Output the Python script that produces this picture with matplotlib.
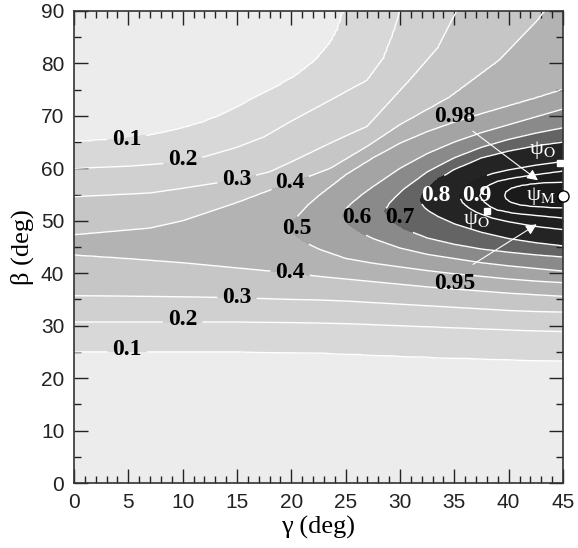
import numpy as np
import matplotlib.pyplot as plt
from matplotlib.ticker import MultipleLocator

plt.rcParams['font.family'] = 'Liberation Serif'
plt.rcParams['mathtext.fontset'] = 'stix'

# gamma columns (deg) used for the lower branches of the open contours
cols = [0, 5, 10, 15, 20, 22.5, 25, 27.5, 30, 32.5, 35, 37.5, 40, 42.5, 45]

# open contours 0.1-0.4: beta (deg) of the lower branch at each column
low_01 = [25.0, 25.0, 25.0, 25.0, 24.9, 24.8, 24.6, 24.4, 24.2, 24.0, 23.8, 23.7, 23.5, 23.4, 23.3]
low_02 = [30.7, 30.7, 30.7, 30.7, 30.6, 30.5, 30.4, 30.2, 30.0, 29.8, 29.6, 29.4, 29.2, 29.0, 28.9]
low_03 = [35.7, 35.6, 35.5, 35.3, 35.0, 34.9, 34.7, 34.4, 34.1, 33.8, 33.5, 33.2, 32.9, 32.7, 32.6]
low_04 = [43.5, 42.8, 42.0, 41.0, 40.0, 39.4, 38.9, 38.4, 37.9, 37.4, 37.0, 36.6, 36.2, 35.9, 35.6]

# upper branches of the open contours, running out through the top edge
up_01_g = [0, 4, 7, 9.5, 12, 14, 16.2, 18.5, 20.5, 22.3, 23.6, 24.3, 24.8]
up_01_b = [65.1, 65.5, 66.3, 67.4, 68.9, 70.6, 73.0, 75.4, 77.8, 80.7, 83.9, 86.5, 90]
up_02_g = [0, 5, 8.8, 12, 15, 17.5, 20, 23.6, 27, 28.5, 29.4, 30.0]
up_02_b = [60.0, 60.4, 61.0, 62.2, 64.0, 66.0, 69.0, 73.0, 76.8, 81.0, 85.8, 90]
up_03_g = [0, 7, 10, 15, 18, 20.8, 23.6, 27, 30.9, 33.5, 35.2]
up_03_b = [54.6, 55.3, 56.2, 57.8, 59.3, 62.0, 64.8, 68.0, 76.8, 83.0, 90]
up_04_g = [0, 7, 10, 15, 18.7, 20, 23.6, 27, 30, 34.6, 39.2, 42.7, 43.3]
up_04_b = [47.3, 48.6, 50.0, 53.5, 56.4, 57.2, 60.0, 64.2, 68.3, 73.6, 80.7, 88.3, 90]

# closed contours: gamma from the left tip, lower and upper beta
c05_g = [19.8, 20.1, 20.6, 21.5, 22.5, 25, 27.5, 30, 32.5, 35, 37.5, 40, 42.5, 45]
c05_lo = [48.7, 47.6, 46.8, 45.6, 44.6, 42.8, 41.9, 41.2, 40.5, 39.9, 39.4, 38.9, 38.5, 38.2]
c05_hi = [48.7, 49.9, 51.0, 53.0, 54.8, 58.8, 62.0, 64.8, 67.0, 68.8, 70.4, 71.9, 73.4, 75.0]
c06_g = [24.7, 25.0, 25.5, 26.5, 27.5, 30, 32.5, 35, 37.5, 40, 42.5, 45]
c06_lo = [51.0, 49.8, 48.9, 47.6, 46.6, 44.8, 43.6, 42.8, 42.0, 41.4, 40.9, 40.4]
c06_hi = [51.0, 52.3, 53.3, 55.0, 56.5, 60.0, 62.8, 65.0, 66.8, 68.3, 69.8, 71.3]
c07_g = [28.6, 28.9, 29.4, 30.3, 32.5, 35, 37.5, 40, 42.5, 45]
c07_lo = [51.8, 50.6, 49.7, 48.5, 46.7, 45.5, 44.6, 44.0, 43.5, 43.1]
c07_hi = [51.8, 53.1, 54.2, 56.0, 59.3, 62.0, 64.0, 65.5, 66.7, 67.7]
c08_g = [31.8, 32.1, 32.6, 33.5, 35, 37.5, 40, 42.5, 45]
c08_lo = [54.0, 52.8, 51.9, 50.8, 49.4, 47.8, 46.6, 45.8, 45.2]
c08_hi = [54.0, 55.3, 56.4, 58.0, 59.8, 62.0, 63.3, 64.3, 65.0]
c09_g = [35.4, 35.7, 36.2, 37.0, 38.5, 40, 42.5, 45]
c09_lo = [54.6, 53.5, 52.6, 51.6, 50.5, 49.8, 48.9, 48.3]
c09_hi = [54.6, 55.8, 56.8, 57.9, 59.0, 59.7, 60.6, 61.3]
c095_g = [37.3, 37.6, 38.1, 39.0, 40.5, 42.5, 45]
c095_lo = [54.8, 53.8, 52.9, 52.0, 51.4, 51.0, 50.5]
c095_hi = [54.8, 55.9, 56.8, 57.6, 58.2, 58.8, 59.5]
c098_g = [39.5, 39.8, 40.3, 41.2, 42.7, 45]
c098_lo = [54.85, 54.0, 53.4, 52.9, 52.6, 52.4]
c098_hi = [54.85, 55.7, 56.3, 56.8, 57.2, 57.4]

# crest value of each column and value at the top edge (beta = 90)
ridge_val = [0.45, 0.455, 0.465, 0.478, 0.501, 0.55, 0.607, 0.67, 0.745, 0.83, 0.89, 0.955, 0.985, 0.992, 0.995]
top_val = [0.05, 0.05, 0.05, 0.06, 0.08, 0.09, 0.101, 0.16, 0.19, 0.25, 0.29, 0.34, 0.37, 0.39, 0.43]

levels = [0.1, 0.2, 0.3, 0.4, 0.5, 0.6, 0.7, 0.8, 0.9, 0.95, 0.98]
open_c = [(0.1, low_01, up_01_g, up_01_b), (0.2, low_02, up_02_g, up_02_b),
          (0.3, low_03, up_03_g, up_03_b), (0.4, low_04, up_04_g, up_04_b)]
closed_c = [(0.5, c05_g, c05_lo, c05_hi), (0.6, c06_g, c06_lo, c06_hi),
            (0.7, c07_g, c07_lo, c07_hi), (0.8, c08_g, c08_lo, c08_hi),
            (0.9, c09_g, c09_lo, c09_hi), (0.95, c095_g, c095_lo, c095_hi),
            (0.98, c098_g, c098_lo, c098_hi)]

# optimum points
psi_o_gamma = [44.7, 38.0]
psi_o_beta = [61.0, 51.9]
psi_m = (45.0, 54.8)

# field on a grid, built column by column from the read crossings
gf = np.arange(0, 45.001, 0.25)
beta = np.arange(0, 90.001, 0.25)
Z = np.empty((beta.size, gf.size))
for j, g in enumerate(gf):
    lo_pts, hi_pts = [], []
    for lev, lo, ug, ub in open_c:
        lo_pts.append((lev, np.interp(g, cols, lo)))
        if g < ug[-1]:
            hi_pts.append((lev, np.interp(g, ug, ub)))
    for lev, cg, clo, chi in closed_c:
        if g > cg[0]:
            lo_pts.append((lev, np.interp(g, cg, clo)))
            hi_pts.append((lev, np.interp(g, cg, chi)))
    inner = max(lev for lev, _ in hi_pts if any(lv == lev for lv, _ in lo_pts))
    b_in = [b for lev, b in lo_pts if lev == inner][0]
    t_in = [b for lev, b in hi_pts if lev == inner][0]
    l_in = max(lev for lev, _ in lo_pts)
    l_out = ([lv for lv in levels if lv > l_in] + [1.0])[0]
    rv = np.clip(np.interp(g, cols, ridge_val), l_in + 0.003, l_out - 0.003)
    h_min = min(lev for lev, _ in hi_pts)
    below = ([lv for lv in levels if lv < h_min] or [0.0])[-1]
    tv = np.clip(np.interp(g, cols, top_val), below + 0.003, h_min - 0.003)
    bs = [0.0] + [b for _, b in lo_pts] + [(b_in + t_in) / 2] + [b for _, b in hi_pts[::-1]] + [90.0]
    vs = [0.0] + [lev for lev, _ in lo_pts] + [rv] + [lev for lev, _ in hi_pts[::-1]] + [tv]
    order = np.argsort(bs, kind='stable')
    Z[:, j] = np.interp(beta, np.array(bs)[order], np.array(vs)[order])

fill_levels = [0] + levels + [1.0]
fill_colors = ['#ececec', '#d8d8d8', '#d0d0d0', '#c6c6c6', '#b3b3b3', '#a4a4a4',
               '#8a8a8a', '#646464', '#242424', '#1f1f1f', '#1c1c1c', '#1a1a1a']

fig = plt.figure(figsize=(5.78, 5.48), dpi=100)
ax = fig.add_axes([0.128, 0.1186, 0.846, 0.8614])

ax.contourf(gf, beta, Z, levels=fill_levels, colors=fill_colors)
cs = ax.contour(gf, beta, Z, levels=levels, colors='white', linewidths=1.0)

# contour labels (black for 0.1-0.7, white for 0.8 and 0.9)
label_pos = [(4.9, 65.4), (10, 61.6), (15, 57.8), (19.9, 57.2),
             (4.9, 25.4), (10, 31.1), (15, 35.3), (19.9, 40.2),
             (20.5, 48.6), (26.0, 50.7), (30.0, 50.7),
             (33.3, 54.9), (37.1, 54.9)]
label_colors = ['black'] * 7 + ['white'] * 2
with plt.rc_context({'font.weight': 'bold'}):
    texts = ax.clabel(cs, levels=levels[:9], manual=label_pos, inline=True,
                      fontsize=17, fmt='%g', colors=label_colors)
for t, p in zip(texts, label_pos):
    t.set_rotation(0)
    t.set_position(p)
    t.set_fontweight('bold')

ax.text(35.0, 69.8, '0.98', fontsize=17, fontweight='bold', ha='center', va='center')
ax.text(35.0, 38.1, '0.95', fontsize=17, fontweight='bold', ha='center', va='center')
arrow = dict(arrowstyle='-|>', color='white', lw=0.8, mutation_scale=16)
ax.annotate('', xy=(42.9, 57.4), xytext=(36.5, 67.4), arrowprops=arrow)
ax.annotate('', xy=(42.8, 49.6), xytext=(36.5, 41.4), arrowprops=arrow)

ax.plot(psi_o_gamma, psi_o_beta, 's', color='white', ms=5, zorder=5)
ax.plot(*psi_m, 'o', mfc='white', mec='black', mew=1.0, ms=8, clip_on=False, zorder=6)
ax.text(43.1, 63.5, 'ψ$_\\mathrm{O}$', color='white', fontsize=16, ha='center', va='center')
ax.text(43.0, 54.7, 'ψ$_\\mathrm{M}$', color='white', fontsize=16, ha='center', va='center')
ax.text(37.0, 50.2, 'ψ$_\\mathrm{O}$', color='white', fontsize=16, ha='center', va='center')

ax.set_xlim(0, 45)
ax.set_ylim(0, 90)
ax.xaxis.set_major_locator(MultipleLocator(5))
ax.xaxis.set_minor_locator(MultipleLocator(1))
ax.yaxis.set_major_locator(MultipleLocator(10))
ax.yaxis.set_minor_locator(MultipleLocator(5))
ax.tick_params(which='both', direction='in', top=True, right=True, color='#222222', width=1.0)
ax.tick_params(which='major', length=10, labelsize=15, pad=7,
               labelfontfamily='Liberation Sans', labelcolor='#222222')
ax.tick_params(which='minor', length=5)
for s in ax.spines.values():
    s.set_color('#333333')
    s.set_linewidth(1.2)

ax.set_xlabel('γ (deg)', fontsize=19, labelpad=3)
ax.set_ylabel('β (deg)', fontsize=19, labelpad=5)

fig.savefig('out.png', dpi=100)
